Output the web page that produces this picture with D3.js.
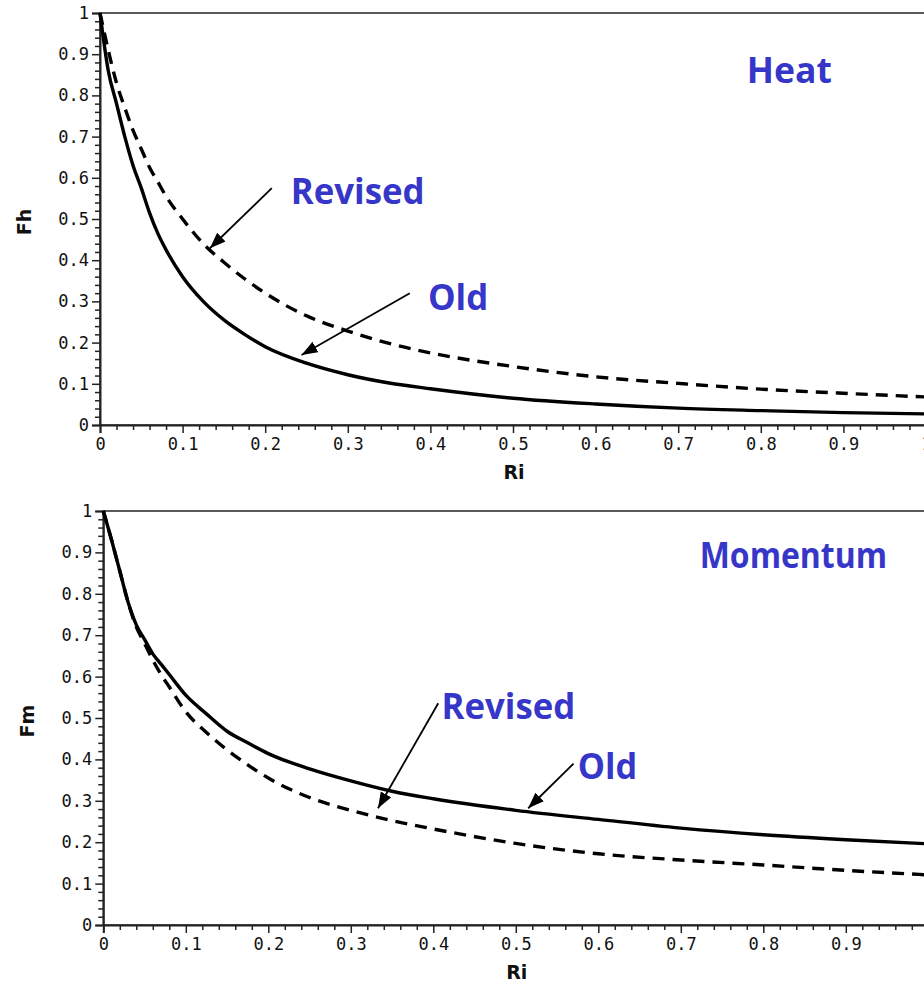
<!DOCTYPE html>
<html>
<head>
<meta charset="utf-8">
<script src="https://cdn.jsdelivr.net/npm/d3@7"></script>
<style>
  body { margin: 0; background: #fff; overflow: hidden; }
  .tick text { font-family: "DejaVu Sans Mono", monospace; font-size: 17px; fill: #111; }
  .axis-title { font-family: "DejaVu Sans", sans-serif; font-weight: bold; font-size: 19px; fill: #111; }
  .note { font-family: "Open Sans", sans-serif; font-weight: 700; font-size: 35px; fill: #3636c8; }
</style>
</head>
<body>
<svg id="chart" width="924" height="984"></svg>
<script>
'use strict';

// Richardson number samples (shared by every curve)
var riValues = [0, 0.01, 0.02, 0.03, 0.04, 0.05, 0.06, 0.07, 0.08, 0.1, 0.125, 0.15,
    0.175, 0.2, 0.25, 0.3, 0.35, 0.4, 0.5, 0.6, 0.7, 0.8, 0.9, 1.0];

// Heat panel
var fhOld = [1, 0.86, 0.78, 0.70, 0.63, 0.575, 0.515, 0.465, 0.425, 0.36, 0.30, 0.255,
    0.22, 0.19, 0.15, 0.122, 0.102, 0.088, 0.065, 0.051, 0.041, 0.035, 0.030, 0.027];
var fhRevised = [1, 0.91, 0.83, 0.77, 0.715, 0.67, 0.625, 0.59, 0.555, 0.50, 0.44, 0.395,
    0.355, 0.32, 0.265, 0.228, 0.198, 0.175, 0.142, 0.117, 0.101, 0.087, 0.077, 0.068];

// Momentum panel
var fmOld = [1, 0.93, 0.855, 0.78, 0.725, 0.69, 0.655, 0.63, 0.605, 0.555, 0.51, 0.468,
    0.44, 0.414, 0.377, 0.348, 0.323, 0.305, 0.277, 0.255, 0.234, 0.218, 0.206, 0.196];
var fmRevised = [1, 0.93, 0.855, 0.78, 0.72, 0.68, 0.64, 0.605, 0.575, 0.515, 0.465, 0.423,
    0.387, 0.355, 0.308, 0.277, 0.252, 0.232, 0.197, 0.172, 0.157, 0.145, 0.132, 0.121];

var majorTicks = [0, 0.1, 0.2, 0.3, 0.4, 0.5, 0.6, 0.7, 0.8, 0.9, 1];

var svg = d3.select('#chart');

svg.append('defs').append('marker')
    .attr('id', 'arrow')
    .attr('markerUnits', 'userSpaceOnUse')
    .attr('markerWidth', 18)
    .attr('markerHeight', 14)
    .attr('refX', 16)
    .attr('refY', 6)
    .attr('orient', 'auto')
  .append('path')
    .attr('d', 'M0,0 L16,6 L0,12 Z')
    .attr('fill', '#000');

function drawPanel (cfg) {
    var g = svg.append('g').attr('transform', 'translate(' + cfg.left + ',' + cfg.top + ')');

    var x = d3.scaleLinear().domain([0, 1]).range([0, cfg.width]);
    var y = d3.scaleLinear().domain([0, 1]).range([cfg.height, 0]);

    var minorTicks = d3.range(0, 1.0001, 0.02).filter(function (v) {
        return Math.abs(v * 10 - Math.round(v * 10)) > 1e-6;
    });
    var fmt = function (d) { return String(+d.toFixed(1)); };

    // frame
    g.append('rect')
        .attr('width', cfg.width)
        .attr('height', cfg.height)
        .attr('fill', 'none')
        .attr('stroke', '#333')
        .attr('stroke-width', 1.6);

    // minor ticks
    g.append('g')
        .attr('transform', 'translate(0,' + cfg.height + ')')
        .call(d3.axisBottom(x).tickValues(minorTicks).tickSize(5).tickFormat(''))
        .call(function (a) { a.select('.domain').remove(); });
    g.append('g')
        .call(d3.axisLeft(y).tickValues(minorTicks).tickSize(5).tickFormat(''))
        .call(function (a) { a.select('.domain').remove(); });

    // major ticks
    var xAxis = g.append('g')
        .attr('transform', 'translate(0,' + cfg.height + ')')
        .call(d3.axisBottom(x).tickValues(majorTicks).tickSize(8).tickPadding(5).tickFormat(fmt));
    var yAxis = g.append('g')
        .call(d3.axisLeft(y).tickValues(majorTicks).tickSize(8).tickPadding(3).tickFormat(fmt));

    [xAxis, yAxis].forEach(function (a) {
        a.select('.domain').attr('stroke', '#222').attr('stroke-width', 2);
    });
    g.selectAll('.tick line').attr('stroke', '#222').attr('stroke-width', 1.5);
    g.selectAll('.tick text').attr('font-family', null).attr('font-size', null);

    // axis titles
    g.append('text')
        .attr('class', 'axis-title')
        .attr('text-anchor', 'middle')
        .attr('x', x(0.5) + 1)
        .attr('y', cfg.height + 54)
        .text('Ri');
    g.append('text')
        .attr('class', 'axis-title')
        .attr('text-anchor', 'middle')
        .attr('transform', 'translate(' + (cfg.yTitleX - cfg.left) + ',' + (y(0.5) + 3) + ') rotate(-90)')
        .text(cfg.yTitle);

    // curves
    var line = d3.line()
        .x(function (d, i) { return x(riValues[i]); })
        .y(function (d) { return y(d); })
        .curve(d3.curveMonotoneX);

    g.append('path')
        .datum(cfg.revised)
        .attr('d', line)
        .attr('fill', 'none')
        .attr('stroke', '#000')
        .attr('stroke-width', 3.4)
        .attr('stroke-dasharray', '12,8');

    g.append('path')
        .datum(cfg.old)
        .attr('d', line)
        .attr('fill', 'none')
        .attr('stroke', '#000')
        .attr('stroke-width', 3.4);

    // annotations
    g.selectAll('text.note')
        .data(cfg.notes)
        .enter().append('text')
        .attr('class', 'note')
        .attr('x', function (d) { return x(d.ri); })
        .attr('y', function (d) { return y(d.f); })
        .attr('textLength', function (d) { return x(d.riEnd) - x(d.ri); })
        .attr('lengthAdjust', 'spacingAndGlyphs')
        .text(function (d) { return d.text; });

    g.selectAll('line.arrow')
        .data(cfg.arrows)
        .enter().append('line')
        .attr('class', 'arrow')
        .attr('x1', function (d) { return x(d.from[0]); })
        .attr('y1', function (d) { return y(d.from[1]); })
        .attr('x2', function (d) { return x(d.to[0]); })
        .attr('y2', function (d) { return y(d.to[1]); })
        .attr('stroke', '#000')
        .attr('stroke-width', 1.8)
        .attr('marker-end', 'url(#arrow)');
}

drawPanel({
    left: 100, top: 13, width: 826, height: 412,
    yTitle: 'Fh', yTitleX: 31,
    old: fhOld, revised: fhRevised,
    notes: [
        { text: 'Heat', ri: 0.783, riEnd: 0.886, f: 0.83 },
        { text: 'Revised', ri: 0.231, riEnd: 0.393, f: 0.536 },
        { text: 'Old', ri: 0.397, riEnd: 0.470, f: 0.279 }
    ],
    arrows: [
        { from: [0.208, 0.575], to: [0.133, 0.429] },
        { from: [0.375, 0.32], to: [0.244, 0.17] }
    ]
});

drawPanel({
    left: 103.3, top: 511, width: 825, height: 414,
    yTitle: 'Fm', yTitleX: 34,
    old: fmOld, revised: fmRevised,
    notes: [
        { text: 'Momentum', ri: 0.723, riEnd: 0.950, f: 0.862 },
        { text: 'Revised', ri: 0.41, riEnd: 0.572, f: 0.4976 },
        { text: 'Old', ri: 0.575, riEnd: 0.647, f: 0.353 }
    ],
    arrows: [
        { from: [0.406, 0.5355], to: [0.333, 0.282] },
        { from: [0.570, 0.39], to: [0.515, 0.282] }
    ]
});
</script>
</body>
</html>
